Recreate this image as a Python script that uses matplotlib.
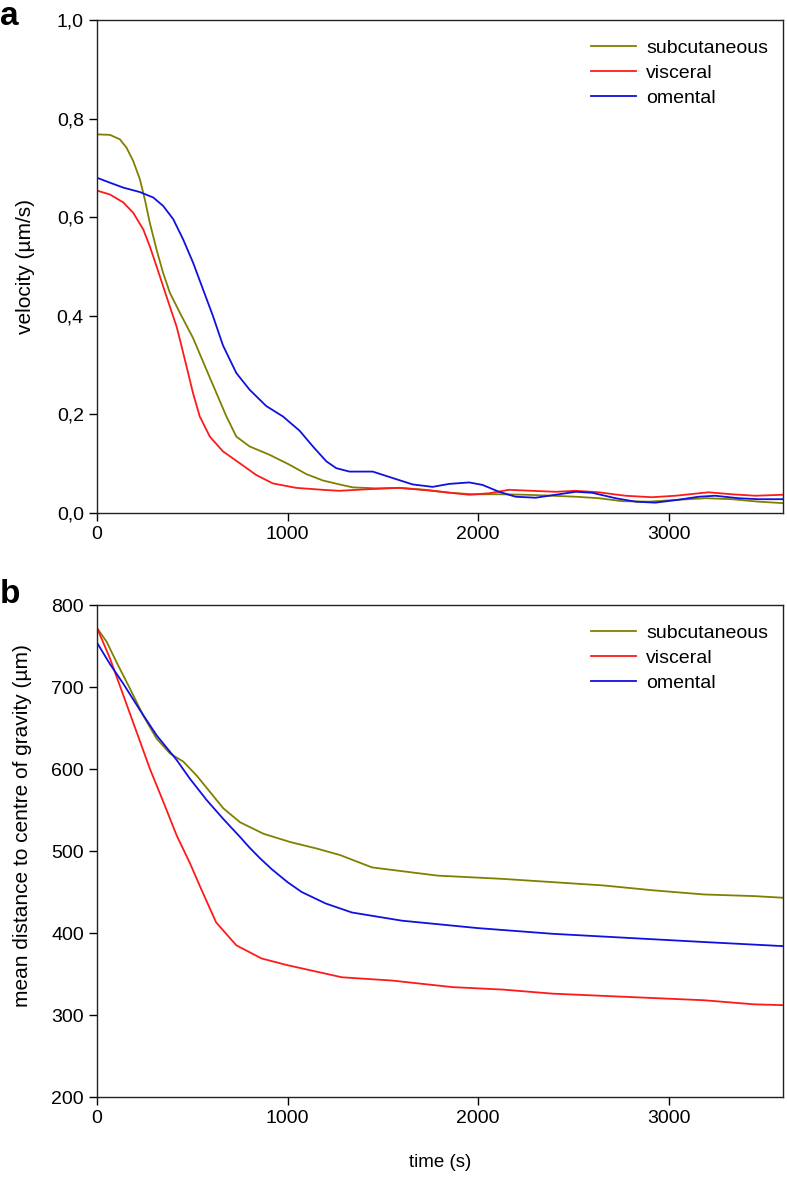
import numpy as np
import matplotlib.pyplot as plt
from matplotlib.ticker import FuncFormatter

plt.rcParams['font.family'] = ['Liberation Sans', 'DejaVu Sans']

# panel a: velocity (um/s) over time (s)
t_sub_a = [0, 68, 120, 155, 190, 225, 251, 277, 312, 347, 382, 435, 504, 574, 627, 679, 731,
           801, 906, 1010, 1098, 1185, 1272, 1342, 1464, 1586, 1726, 1848, 1970, 2110, 2249,
           2389, 2512, 2634, 2756, 2895, 3017, 3192, 3331, 3471, 3600]
v_sub_a = [0.768, 0.767, 0.758, 0.741, 0.714, 0.677, 0.636, 0.589, 0.535, 0.487, 0.447, 0.406,
           0.355, 0.291, 0.243, 0.196, 0.155, 0.135, 0.118, 0.098, 0.079, 0.066, 0.058, 0.052,
           0.050, 0.051, 0.047, 0.041, 0.038, 0.038, 0.037, 0.035, 0.033, 0.030, 0.024, 0.023,
           0.026, 0.030, 0.028, 0.023, 0.020]
t_vis_a = [0, 68, 138, 190, 243, 277, 312, 347, 382, 417, 435, 470, 504, 539, 592, 661, 749,
           836, 923, 1045, 1185, 1272, 1412, 1586, 1761, 1953, 2058, 2162, 2284, 2407, 2512,
           2634, 2773, 2912, 3035, 3209, 3331, 3454, 3600]
v_vis_a = [0.654, 0.646, 0.630, 0.609, 0.575, 0.541, 0.501, 0.460, 0.419, 0.379, 0.352, 0.297,
           0.243, 0.196, 0.155, 0.125, 0.101, 0.077, 0.060, 0.051, 0.047, 0.045, 0.048, 0.051,
           0.045, 0.037, 0.040, 0.047, 0.045, 0.043, 0.045, 0.042, 0.035, 0.032, 0.035, 0.042,
           0.038, 0.035, 0.037]
t_ome_a = [0, 68, 138, 225, 295, 347, 400, 452, 504, 557, 609, 661, 731, 801, 888, 975, 1063,
           1133, 1203, 1255, 1325, 1447, 1551, 1656, 1761, 1848, 1953, 2023, 2110, 2197, 2302,
           2407, 2512, 2599, 2721, 2826, 2930, 3035, 3157, 3244, 3366, 3471, 3600]
v_ome_a = [0.680, 0.670, 0.660, 0.651, 0.640, 0.623, 0.596, 0.555, 0.508, 0.453, 0.399, 0.340,
           0.284, 0.250, 0.217, 0.196, 0.167, 0.135, 0.105, 0.091, 0.084, 0.084, 0.071, 0.058,
           0.053, 0.059, 0.062, 0.057, 0.043, 0.033, 0.031, 0.037, 0.043, 0.041, 0.030, 0.023,
           0.021, 0.026, 0.033, 0.035, 0.030, 0.028, 0.028]

# panel b: mean distance to centre of gravity (um) over time (s)
t_sub_b = [0, 51, 103, 173, 243, 313, 383, 453, 523, 593, 663, 751, 874, 1013, 1153, 1276,
           1443, 1786, 2129, 2393, 2657, 2921, 3185, 3449, 3600]
d_sub_b = [772, 755, 730, 698, 665, 637, 619, 609, 592, 572, 552, 535, 521, 511, 503, 495,
           480, 470, 466, 462, 458, 452, 447, 445, 443]
t_vis_b = [0, 68, 138, 208, 278, 348, 418, 488, 546, 625, 731, 863, 995, 1285, 1549, 1865,
           2129, 2393, 2789, 3185, 3449, 3600]
d_vis_b = [772, 735, 690, 645, 600, 560, 519, 485, 454, 413, 385, 369, 361, 346, 342, 334,
           331, 326, 322, 318, 313, 312]
t_ome_b = [0, 68, 138, 225, 313, 418, 488, 576, 663, 751, 801, 856, 916, 1000, 1074, 1200,
           1338, 1601, 1997, 2393, 2789, 3185, 3600]
d_ome_b = [754, 728, 704, 672, 641, 611, 588, 562, 539, 517, 504, 491, 478, 462, 450, 436,
           425, 415, 406, 399, 394, 389, 384]

labels = ["subcutaneous", "visceral", "omental"]
colors = ["#808000", "#ff1a1a", "#1010e0"]

fig = plt.figure(figsize=(7.87, 11.79), dpi=100)
W, H = 787, 1179
left, right = 97, 783
ax_a = fig.add_axes([left / W, 1 - 513 / H, (right - left) / W, 493 / H])
ax_b = fig.add_axes([left / W, 1 - 1097 / H, (right - left) / W, 492 / H])

comma = FuncFormatter(lambda v, p: f"{v:.1f}".replace(".", ","))

for ax, series in [(ax_a, [(t_sub_a, v_sub_a), (t_vis_a, v_vis_a), (t_ome_a, v_ome_a)]),
                   (ax_b, [(t_sub_b, d_sub_b), (t_vis_b, d_vis_b), (t_ome_b, d_ome_b)])]:
    for (t, y), lab, c in zip(series, labels, colors):
        ax.plot(t, y, color=c, lw=1.3, label=lab, solid_joinstyle='round')
    ax.set_xlim(0, 3600)
    ax.set_xticks([0, 1000, 2000, 3000])
    ax.tick_params(direction='out', length=6, width=1, labelsize=14, top=False, right=False)
    for s in ax.spines.values():
        s.set_linewidth(1)
        s.set_color('#222222')
    ax.legend(loc='upper right', bbox_to_anchor=(0.978, 0.961), frameon=False, fontsize=14,
              handlelength=2.3, handletextpad=0.5, labelspacing=0.38, borderpad=0,
              borderaxespad=0)

ax_a.set_ylim(0, 1.0)
ax_a.set_yticks([0, 0.2, 0.4, 0.6, 0.8, 1.0])
ax_a.yaxis.set_major_formatter(comma)
ax_a.set_ylabel("velocity (µm/s)", fontsize=15)
ax_a.yaxis.set_label_coords(-0.091, 0.5)

ax_b.set_ylim(200, 800)
ax_b.set_yticks([200, 300, 400, 500, 600, 700, 800])
ax_b.set_ylabel("mean distance to centre of gravity (µm)", fontsize=15)
ax_b.yaxis.set_label_coords(-0.095, 0.551)
ax_b.set_xlabel("time (s)", fontsize=13.5)
ax_b.xaxis.set_label_coords(0.5, -0.115)

fig.text(0, 1 - 25 / H, "a", fontsize=24, fontweight='bold', va='baseline', ha='left')
fig.text(0, 1 - 603 / H, "b", fontsize=24, fontweight='bold', va='baseline', ha='left')

fig.savefig("out.png", dpi=100)
